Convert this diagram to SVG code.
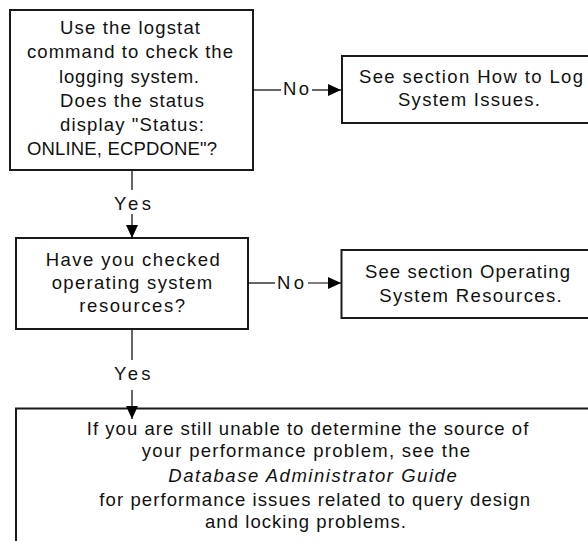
<svg xmlns="http://www.w3.org/2000/svg" width="588" height="541" viewBox="0 0 588 541">
  <defs>
    <style>
      .box { fill: #ffffff; stroke: #1a1a1a; stroke-width: 2; }
      .wire { fill: none; stroke: #000000; stroke-width: 1.2; }
      text { font-family: "Liberation Sans", Arial, sans-serif; font-size: 18.5px; fill: #111111; }
      .it { font-style: italic; }
    </style>
    <marker id="arrow" markerUnits="userSpaceOnUse" markerWidth="14" markerHeight="14" refX="13" refY="6" orient="auto">
      <path d="M0,0 L13,6 L0,12 Z" fill="#000000"/>
    </marker>
  </defs>
  <rect width="588" height="541" fill="#ffffff"/>

  <g id="check-logstat">
    <rect class="box" x="10" y="10" width="243" height="160"/>
    <text x="60" y="34" textLength="140">Use the logstat</text>
    <text x="27" y="58" textLength="206">command to check the</text>
    <text x="59" y="82.5" textLength="140">logging system.</text>
    <text x="60" y="107" textLength="144">Does the status</text>
    <text x="60" y="131" textLength="144">display "Status:</text>
    <text x="27" y="155" textLength="190">ONLINE, ECPDONE"?</text>
  </g>

  <g id="log-issues">
    <rect class="box" x="342" y="56" width="258" height="67"/>
    <text x="359" y="83" textLength="224">See section How to Log</text>
    <text x="398" y="106" textLength="142">System Issues.</text>
  </g>

  <g id="check-os">
    <rect class="box" x="16" y="238" width="232" height="91"/>
    <text x="45.7" y="266" textLength="174">Have you checked</text>
    <text x="51.7" y="288.5" textLength="160.5">operating system</text>
    <text x="79.3" y="311.7" textLength="105.7">resources?</text>
  </g>

  <g id="os-resources">
    <rect class="box" x="341.5" y="250" width="258" height="68"/>
    <text x="365" y="278" textLength="205">See section Operating</text>
    <text x="379.3" y="301.7" textLength="182.4">System Resources.</text>
  </g>

  <g id="see-dba-guide">
    <rect class="box" x="16" y="408.5" width="586" height="150"/>
    <text x="86.7" y="435" textLength="441.6">If you are still unable to determine the source of</text>
    <text x="141.7" y="457" textLength="328.3">your performance problem, see the</text>
    <text class="it" x="168.3" y="481.7" textLength="288.4">Database Administrator Guide</text>
    <text x="99.3" y="506" textLength="430.7">for performance issues related to query design</text>
    <text x="205" y="528.3" textLength="201">and locking problems.</text>
  </g>

  <!-- connectors, drawn last so the arrowheads sit over the box borders -->
  <g id="connectors">
    <!-- logstat check: No branch -->
    <line class="wire" x1="253" y1="90" x2="281" y2="90"/>
    <text x="283" y="95" textLength="26">No</text>
    <line class="wire" x1="312" y1="90" x2="341" y2="90" marker-end="url(#arrow)"/>
    <!-- logstat check: Yes branch -->
    <line class="wire" x1="132" y1="171" x2="132" y2="190"/>
    <text x="114" y="209.5" textLength="37">Yes</text>
    <line class="wire" x1="132" y1="214" x2="132" y2="238" marker-end="url(#arrow)"/>
    <!-- OS resources: No branch -->
    <line class="wire" x1="248" y1="283" x2="275" y2="283"/>
    <text x="277" y="288.5" textLength="27">No</text>
    <line class="wire" x1="308" y1="283" x2="341" y2="283" marker-end="url(#arrow)"/>
    <!-- OS resources: Yes branch -->
    <line class="wire" x1="132" y1="330" x2="132" y2="360"/>
    <text x="114" y="379.5" textLength="36.5">Yes</text>
    <line class="wire" x1="132" y1="390" x2="132" y2="419" marker-end="url(#arrow)"/>
  </g>
</svg>
